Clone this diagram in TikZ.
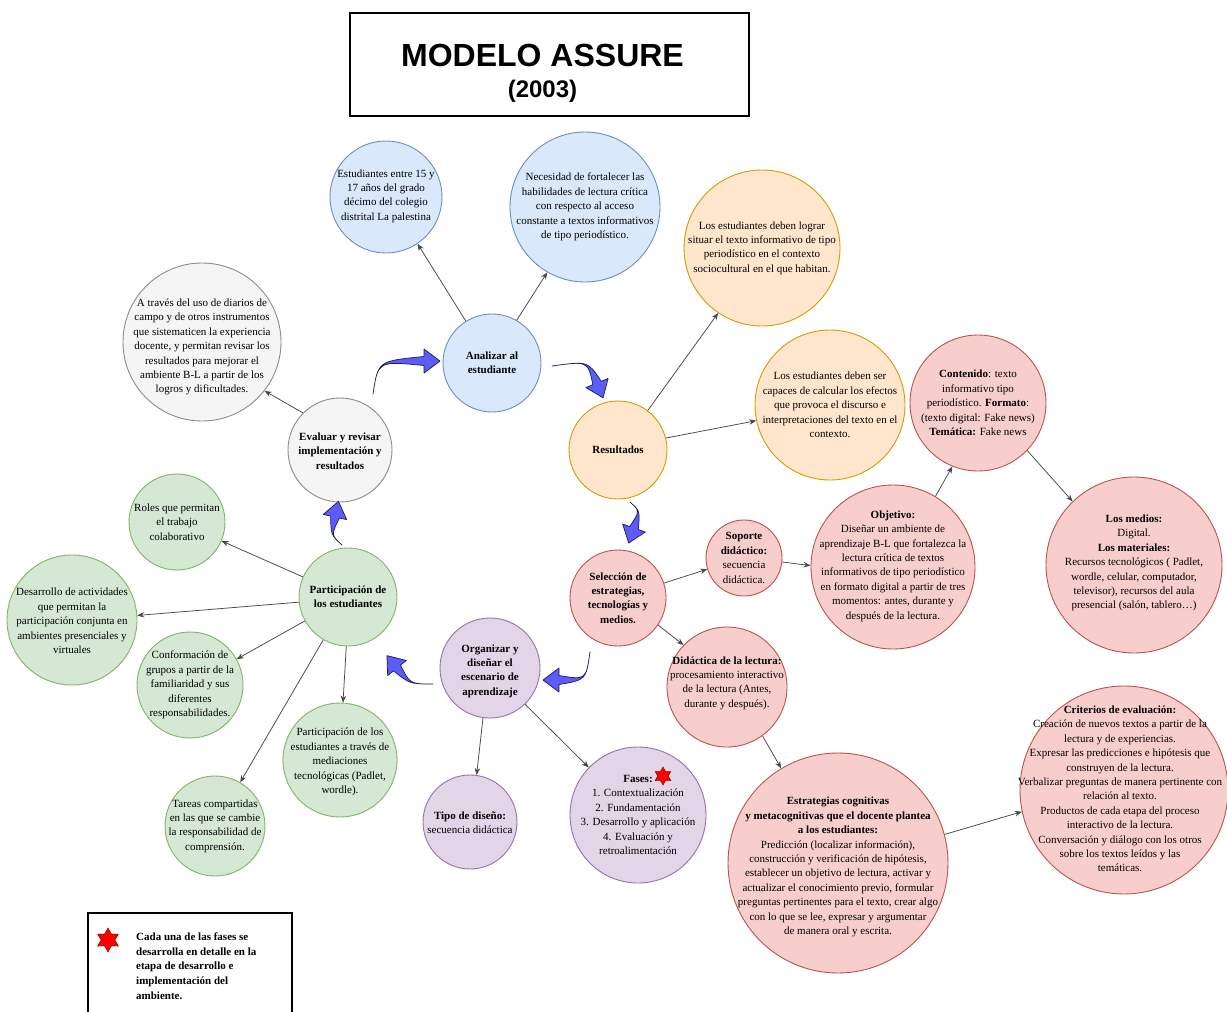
\documentclass[tikz,border=0pt]{standalone}
\usepackage{fontspec}
\setmainfont{Liberation Serif}
\newfontfamily\headfont{Liberation Sans}
\usetikzlibrary{arrows.meta,calc,shapes.geometric}

\definecolor{blf}{HTML}{DAE8FC}\definecolor{bld}{HTML}{6C8EBF}
\definecolor{orf}{HTML}{FFE6CC}\definecolor{ord}{HTML}{D79B00}
\definecolor{pkf}{HTML}{F8CECC}\definecolor{pkd}{HTML}{B85450}
\definecolor{grf}{HTML}{D5E8D4}\definecolor{grd}{HTML}{82B366}
\definecolor{puf}{HTML}{E1D5E7}\definecolor{pud}{HTML}{9673A6}
\definecolor{gyf}{HTML}{F5F5F5}\definecolor{gyd}{HTML}{8C8C8C}
\definecolor{fatf}{RGB}{92,92,248}\definecolor{fatd}{RGB}{28,28,90}

\tikzset{
  bub/.style={circle, inner sep=0pt, line width=0.9pt, draw=#1d, fill=#1f},
  txt/.style={align=center, inner sep=0pt, font=\fontsize{11}{14.4}\selectfont, text=black},
  btxt/.style={txt, font=\bfseries\fontsize{11}{14.4}\selectfont},
  conn/.style={draw=black!72, line width=0.75pt, -{Stealth[length=7pt,width=5.5pt]}},
  fat/.style={fill=fatf, draw=fatd, line width=0.7pt, line join=round},
  redstar/.style={star, star points=6, star point ratio=1.75, inner sep=0pt,
                  fill=red, draw=red!55!black, line width=0.5pt},
}

% tapered curved arrow: start, control, end of body
\newcommand\fatarrow[3]{%
  \filldraw[fat] (#1) .. controls (#2) .. ($(#3)!4.5pt!90:(#2)$)
    -- ($(#3)!12pt!90:(#2)$) -- ($(#3)!-16pt!(#2)$) -- ($(#3)!12pt!-90:(#2)$)
    -- ($(#3)!4.5pt!-90:(#2)$) .. controls (#2) .. (#1) -- cycle;}

\begin{document}
\begin{tikzpicture}[x=1pt,y=-1pt]
\clip (0,0) rectangle (1227,1012);
\fill[white] (0,0) rectangle (1227,1012);

% title
\node[draw, line width=1.6pt, minimum width=399, minimum height=103, inner sep=0] (titlebox) at (549.5,64.5) {};
\node[font=\headfont\bfseries\fontsize{32}{36}\selectfont] (title) at (542.5,55) {MODELO ASSURE};
\node[font=\headfont\bfseries\fontsize{24}{28}\selectfont] (year) at (542.5,91) {(2003)};

% circles
\node[bub=bl, minimum size=112] (estud) at (386,197) {};
\node[bub=bl, minimum size=150] (neces) at (585,207) {};
\node[bub=bl, minimum size=98] (anal) at (492,363) {};
\node[bub=gy, minimum size=158] (evaldet) at (202,342) {};
\node[bub=gy, minimum size=104] (eval) at (340,450) {};
\node[bub=or, minimum size=156] (orng1) at (762,248) {};
\node[bub=or, minimum size=150] (orng2) at (830,405) {};
\node[bub=or, minimum size=98] (result) at (618,450) {};
\node[bub=pk, minimum size=136] (conten) at (978,403) {};
\node[bub=pk, minimum size=164] (objet) at (893,567) {};
\node[bub=pk, minimum size=176] (medios) at (1134,565) {};
\node[bub=pk, minimum size=76] (soporte) at (744,558) {};
\node[bub=pk, minimum size=96] (selec) at (618,598) {};
\node[bub=pk, minimum size=120] (didac) at (727,687) {};
\node[bub=pk, minimum size=220] (estrat) at (838,863) {};
\node[bub=pk, minimum size=208] (crit) at (1124,790) {};
\node[bub=pu, minimum size=100] (organ) at (490,668) {};
\node[bub=pu, minimum size=94] (tipo) at (470,822) {};
\node[bub=pu, minimum size=136] (fases) at (638,815) {};
\node[bub=gr, minimum size=98] (partic) at (348,597) {};
\node[bub=gr, minimum size=96] (roles) at (177,522) {};
\node[bub=gr, minimum size=130] (desarr) at (72,620) {};
\node[bub=gr, minimum size=106] (conform) at (190,685) {};
\node[bub=gr, minimum size=114] (mediac) at (340,760) {};
\node[bub=gr, minimum size=100] (tareas) at (215,826) {};

% texts
\node[txt] (estud-t) at (386,196) {Estudiantes entre 15 y\\17 años del grado\\décimo del colegio\\distrital La palestina};
\node[txt] (neces-t) at (585,207) {Necesidad de fortalecer las\\habilidades de lectura crítica\\con respecto al acceso\\constante a textos informativos\\de tipo periodístico.};
\node[btxt] (anal-t) at (492,363) {Analizar al\\estudiante};
\node[txt] (evaldet-t) at (202,347) {A través del uso de diarios de\\campo y de otros instrumentos\\que sistematicen la experiencia\\docente, y permitan revisar los\\resultados para mejorar el\\ambiente B-L a partir de los\\logros y dificultades.};
\node[btxt] (eval-t) at (340,451) {Evaluar y revisar\\implementación y\\resultados};
\node[txt] (orng1-t) at (762,248) {Los estudiantes deben lograr\\situar el texto informativo de tipo\\periodístico en el contexto\\sociocultural en el que habitan.};
\node[txt] (orng2-t) at (830,405) {Los estudiantes deben ser\\capaces de calcular los efectos\\que provoca el discurso e\\interpretaciones del texto en el\\contexto.};
\node[btxt] (result-t) at (618,450) {Resultados};
\node[txt] (conten-t) at (978,403) {\textbf{Contenido}: texto\\informativo tipo\\periodístico. \textbf{Formato}:\\(texto digital: Fake news)\\\textbf{Temática:} Fake news};
\node[txt] (objet-t) at (893,566) {\textbf{Objetivo:}\\Diseñar un ambiente de\\aprendizaje B-L que fortalezca la\\lectura crítica de textos\\informativos de tipo periodístico\\en formato digital a partir de tres\\momentos: antes, durante y\\después de la lectura.};
\node[txt] (medios-t) at (1134,563) {\textbf{Los medios:}\\Digital.\\\textbf{Los materiales:}\\Recursos tecnológicos ( Padlet,\\wordle, celular, computador,\\televisor), recursos del aula\\presencial (salón, tablero…)};
\node[txt] (soporte-t) at (744,558) {\textbf{Soporte}\\\textbf{didáctico:}\\secuencia\\didáctica.};
\node[btxt] (selec-t) at (618,598) {Selección de\\estrategias,\\tecnologías y\\medios.};
\node[txt] (didac-t) at (727,683) {\textbf{Didáctica de la lectura:}\\procesamiento interactivo\\de la lectura (Antes,\\durante y después).};
\node[txt] (estrat-t) at (838,867) {\textbf{Estrategias cognitivas}\\\textbf{y metacognitivas que el docente plantea}\\\textbf{a los estudiantes:}\\Predicción (localizar información),\\construcción y verificación de hipótesis,\\establecer un objetivo de lectura, activar y\\actualizar el conocimiento previo, formular\\preguntas pertinentes para el texto, crear algo\\con lo que se lee, expresar y argumentar\\de manera oral y escrita.};
\node[txt] (crit-t) at (1120,789) {\textbf{Criterios de evaluación:}\\Creación de nuevos textos a partir de la\\lectura y de experiencias.\\Expresar las predicciones e hipótesis que\\construyen de la lectura.\\Verbalizar preguntas de manera pertinente con\\relación al texto.\\Productos de cada etapa del proceso\\interactivo de la lectura.\\Conversación y diálogo con los otros\\sobre los textos leídos y las\\temáticas.};
\node[btxt] (organ-t) at (490,671) {Organizar y\\diseñar el\\escenario de\\aprendizaje};
\node[txt] (tipo-t) at (470,823) {\textbf{Tipo de diseño:}\\secuencia didáctica};
\node[txt] (fases-t) at (638,815) {\textbf{Fases:}\\1. Contextualización\\2. Fundamentación\\3. Desarrollo y aplicación\\4. Evaluación y\\retroalimentación};
\node[redstar, minimum size=18] (fases-star) at (663,776) {};
\node[btxt] (partic-t) at (348,597) {Participación de\\los estudiantes};
\node[txt] (roles-t) at (177,522) {Roles que permitan\\el trabajo\\colaborativo};
\node[txt] (desarr-t) at (72,621) {Desarrollo de actividades\\que permitan la\\participación conjunta en\\ambientes presenciales y\\virtuales};
\node[txt] (conform-t) at (190,685) {Conformación de\\grupos a partir de la\\familiaridad y sus\\diferentes\\responsabilidades.};
\node[txt] (mediac-t) at (340,762) {Participación de los\\estudiantes a través de\\mediaciones\\tecnológicas (Padlet,\\wordle).};
\node[txt] (tareas-t) at (215,826) {Tareas compartidas\\en las que se cambie\\la responsabilidad de\\comprensión.};

% thin connectors
\draw[conn] (anal.122) -- (estud.-56);
\draw[conn] (anal.60) -- (neces.-120);
\draw[conn] (result.53) -- (orng1.-124);
\draw[conn] (result.14) -- (orng2.-168);
\draw[conn] (eval.135) -- (evaldet.-38);
\draw[conn] (selec.18) -- (soporte.-163);
\draw[conn] (selec.-34) -- (didac.136);
\draw[conn] (soporte.-6) -- (objet.179);
\draw[conn] (objet.59) -- (conten.-112);
\draw[conn] (conten.-44) -- (medios.134);
\draw[conn] (didac.-54) -- (estrat.121);
\draw[conn] (estrat.15) -- (crit.192);
\draw[conn] (organ.-98) -- (tipo.82);
\draw[conn] (organ.-46) -- (fases.136);
\draw[conn] (partic.156) -- (roles.-23);
\draw[conn] (partic.186) -- (desarr.4);
\draw[conn] (partic.209) -- (conform.29);
\draw[conn] (partic.-92) -- (mediac.87);
\draw[conn] (partic.240) -- (tareas.60);

% cycle arrows
\coordinate (c1s) at (373,394); \coordinate (c1c) at (378,361); \coordinate (c1e) at (424,361);
\coordinate (c2s) at (552,366); \coordinate (c2c) at (588,361); \coordinate (c2e) at (597,383);
\coordinate (c3s) at (630,502); \coordinate (c3c) at (640,511); \coordinate (c3e) at (634,528);
\coordinate (c4s) at (590,652); \coordinate (c4c) at (586,680); \coordinate (c4e) at (559,680);
\coordinate (c5s) at (433,684); \coordinate (c5c) at (410,684); \coordinate (c5e) at (397,668);
\coordinate (c6s) at (342,545); \coordinate (c6c) at (331,535); \coordinate (c6e) at (335,517);
\fatarrow{c1s}{c1c}{c1e}
\fatarrow{c2s}{c2c}{c2e}
\fatarrow{c3s}{c3c}{c3e}
\fatarrow{c4s}{c4c}{c4e}
\fatarrow{c5s}{c5c}{c5e}
\fatarrow{c6s}{c6c}{c6e}

% legend
\draw[line width=1.6pt] (88,1020) -- (88,913) -- (292,913) -- (292,1020);
\node[redstar, minimum size=24] (legstar) at (108,940) {};
\node[txt, align=left, anchor=west, font=\bfseries\fontsize{11}{14.7}\selectfont] (legtext) at (136,966)
  {Cada una de las fases se\\desarrolla en detalle en la\\etapa de desarrollo e\\implementación del\\ambiente.};
\end{tikzpicture}
\end{document}
